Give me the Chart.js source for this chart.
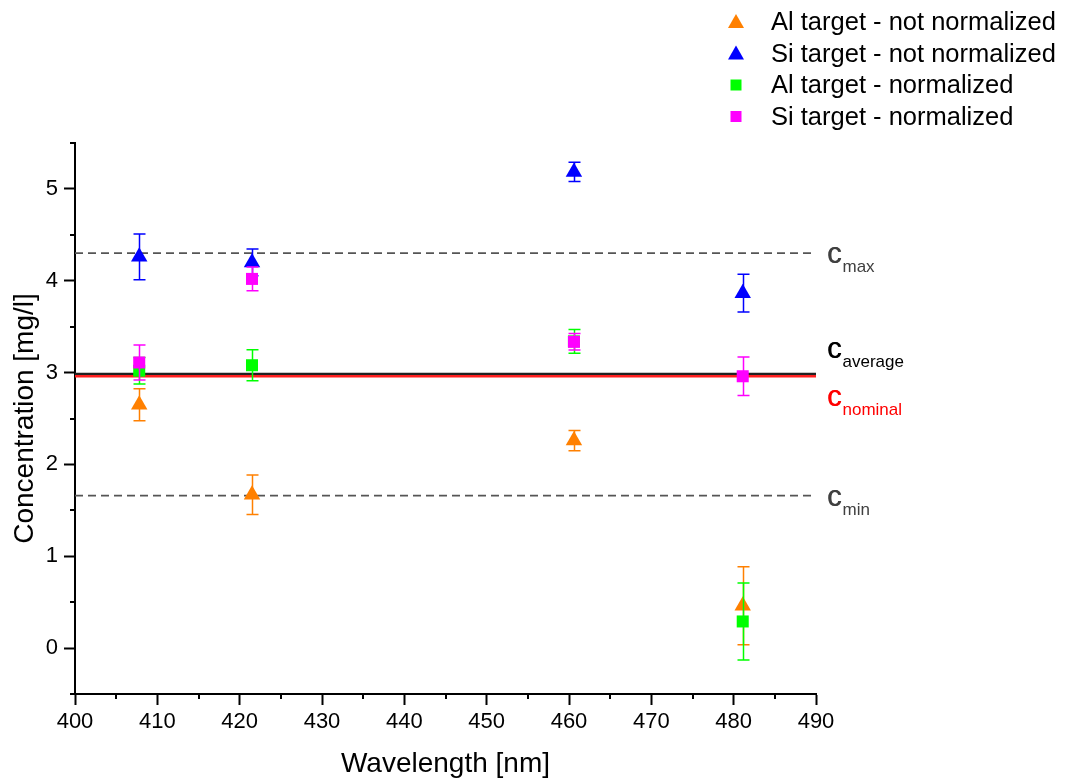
<!DOCTYPE html>
<html lang="en">
<head>
<meta charset="UTF-8">
<title>Concentration vs. wavelength</title>
<script src="https://cdn.jsdelivr.net/npm/chart.js"></script>
<style>
  html, body { margin: 0; padding: 0; background: #fff; }
  #wrap { width: 1065px; height: 783px; position: relative; }
</style>
</head>
<body>
<div id="wrap"><canvas id="concChart"></canvas></div>
<script>
  // Emission lines used for evaluation [nm]
  const wavelengths = [407.8, 421.5, 460.6, 481.1];

  // Concentrations [mg/l] and their standard deviations
  const alNotNorm    = [2.65, 1.67, 2.26, 0.46];
  const alNotNormErr = [0.175, 0.215, 0.11, 0.425];
  const siNotNorm    = [4.26, 4.20, 5.185, 3.865];
  const siNotNormErr = [0.25, 0.145, 0.105, 0.205];
  const alNorm       = [3.02, 3.08, 3.34, 0.29];
  const alNormErr    = [0.145, 0.17, 0.13, 0.42];
  const siNorm       = [3.11, 4.02, 3.335, 2.96];
  const siNormErr    = [0.19, 0.13, 0.09, 0.21];

  // Reference concentrations
  const cMax = 4.30;
  const cMin = 1.66;
  const cAverage = 2.985;
  const cNominal = 2.96;

  const seriesNames = [
    'Al target - not normalized',
    'Si target - not normalized',
    'Al target - normalized',
    'Si target - normalized'
  ];

  const FONT = "'Liberation Sans', Arial, sans-serif";

  const pts = (ys) => ys.map((y, i) => ({ x: wavelengths[i], y: y }));
  const hline = (v) => [{ x: 400, y: v }, { x: 490, y: v }];

  // error bars drawn under each series' markers
  const errorBars = {
    id: 'errorBars',
    beforeDatasetDraw(chart, args) {
      const ds = chart.data.datasets[args.index];
      if (!ds.errors) return;
      const { ctx, scales: { x, y } } = chart;
      ctx.save();
      ctx.strokeStyle = ds.backgroundColor;
      ctx.lineWidth = 1.5;
      ds.data.forEach((p, i) => {
        const px = Math.round(x.getPixelForValue(p.x)) + 0.5;
        const top = y.getPixelForValue(p.y + ds.errors[i]);
        const bot = y.getPixelForValue(p.y - ds.errors[i]);
        ctx.beginPath();
        ctx.moveTo(px, top); ctx.lineTo(px, bot);
        ctx.moveTo(px - 6, top); ctx.lineTo(px + 6, top);
        ctx.moveTo(px - 6, bot); ctx.lineTo(px + 6, bot);
        ctx.stroke();
      });
      ctx.restore();
    }
  };

  // short minor ticks between the labelled ones
  const minorTicks = {
    id: 'minorTicks',
    afterDraw(chart) {
      const { ctx, scales: { x, y } } = chart;
      ctx.save();
      ctx.strokeStyle = '#000';
      ctx.lineWidth = 2;
      ctx.beginPath();
      y.ticks.forEach(t => {
        if (Math.abs(t.value % 1) < 1e-6) return;
        const py = Math.round(y.getPixelForValue(t.value));
        ctx.moveTo(y.right - 5, py); ctx.lineTo(y.right, py);
      });
      x.ticks.forEach(t => {
        if (t.value % 10 === 0) return;
        const px = Math.round(x.getPixelForValue(t.value));
        ctx.moveTo(px, x.top); ctx.lineTo(px, x.top + 5);
      });
      ctx.stroke();
      ctx.restore();
    }
  };

  // c_max, c_average ... labels right of the plot
  const refLabels = {
    id: 'refLabels',
    afterDraw(chart) {
      const { ctx, scales: { y }, chartArea } = chart;
      const items = [
        { sub: 'max', v: cMax, color: '#404040', dy: 2 },
        { sub: 'average', v: cAverage, color: '#000', dy: -24 },
        { sub: 'nominal', v: cNominal, color: '#ff0000', dy: 22 },
        { sub: 'min', v: cMin, color: '#404040', dy: 2 }
      ];
      ctx.save();
      ctx.textBaseline = 'alphabetic';
      ctx.textAlign = 'left';
      items.forEach(it => {
        const cy = y.getPixelForValue(it.v) + it.dy;
        const x0 = chartArea.right + 11;
        ctx.fillStyle = it.color;
        ctx.font = '29px ' + FONT;
        ctx.fillText('c', x0, cy + 8);
        ctx.fillText('c', x0 + 0.6, cy + 8);
        const w = ctx.measureText('c').width;
        ctx.font = '17px ' + FONT;
        ctx.fillText(it.sub, x0 + w + 1, cy + 17);
      });
      ctx.restore();
    }
  };

  // legend in the upper right corner
  const cornerLegend = {
    id: 'cornerLegend',
    afterDraw(chart) {
      const { ctx } = chart;
      ctx.save();
      ctx.font = '25.5px ' + FONT;
      ctx.textBaseline = 'middle';
      ctx.textAlign = 'left';
      seriesNames.forEach((name, i) => {
        const ds = chart.data.datasets[i];
        const cy = 22 + i * 31.5;
        const cx = 736;
        ctx.fillStyle = ds.backgroundColor;
        ctx.beginPath();
        if (ds.pointStyle === 'triangle') {
          ctx.moveTo(cx, cy - 8);
          ctx.lineTo(cx + 8, cy + 6);
          ctx.lineTo(cx - 8, cy + 6);
          ctx.closePath();
        } else {
          ctx.rect(cx - 5.5, cy - 5.5, 11, 11);
        }
        ctx.fill();
        ctx.fillStyle = '#000';
        ctx.fillText(name, 771, cy + 1);
      });
      ctx.restore();
    }
  };

  const majorTick = (step) => (c) => (c.tick && Math.abs(c.tick.value % step) < 1e-6) ? '#000' : 'rgba(0,0,0,0)';

  const ctx = document.getElementById('concChart').getContext('2d');
  new Chart(ctx, {
    type: 'scatter',
    data: {
      datasets: [
        { label: seriesNames[0], data: pts(alNotNorm), errors: alNotNormErr,
          backgroundColor: '#ff8000', borderColor: '#ff8000',
          pointStyle: 'triangle', pointRadius: 9.5, pointBorderWidth: 0, order: 4 },
        { label: seriesNames[1], data: pts(siNotNorm), errors: siNotNormErr,
          backgroundColor: '#0000ff', borderColor: '#0000ff',
          pointStyle: 'triangle', pointRadius: 9.5, pointBorderWidth: 0, order: 3 },
        { label: seriesNames[2], data: pts(alNorm), errors: alNormErr,
          backgroundColor: '#00ff00', borderColor: '#00ff00',
          pointStyle: 'rect', pointRadius: 8.5, pointBorderWidth: 0, order: 2 },
        { label: seriesNames[3], data: pts(siNorm), errors: siNormErr,
          backgroundColor: '#ff00ff', borderColor: '#ff00ff',
          pointStyle: 'rect', pointRadius: 8.5, pointBorderWidth: 0, order: 1 },
        { type: 'line', label: 'c_max', data: hline(cMax), borderColor: '#555',
          borderWidth: 1.8, borderDash: [8, 5], pointRadius: 0, order: 10 },
        { type: 'line', label: 'c_min', data: hline(cMin), borderColor: '#555',
          borderWidth: 1.8, borderDash: [8, 5], pointRadius: 0, order: 10 },
        { type: 'line', label: 'c_average', data: hline(cAverage), borderColor: '#222',
          borderWidth: 2.2, pointRadius: 0, order: 11 },
        { type: 'line', label: 'c_nominal', data: hline(cNominal), borderColor: '#ff2020',
          borderWidth: 2.4, pointRadius: 0, order: 10 }
      ]
    },
    options: {
      responsive: true,
      maintainAspectRatio: false,
      animation: false,
      layout: { padding: { top: 143, right: 249, left: 0, bottom: 0 } },
      plugins: {
        legend: { display: false },
        tooltip: { enabled: false }
      },
      scales: {
        x: {
          type: 'linear',
          min: 400,
          max: 490,
          afterFit: (s) => { s.height = 89; },
          ticks: {
            stepSize: 5,
            autoSkip: false,
            maxRotation: 0,
            padding: 4,
            color: '#000',
            font: { family: FONT, size: 22 },
            callback: (v) => (v % 10 === 0 ? v : '')
          },
          grid: { drawOnChartArea: false, tickLength: 11, tickWidth: 2, tickColor: majorTick(10) },
          border: { color: '#000', width: 2 },
          title: {
            display: true,
            text: 'Wavelength [nm]',
            color: '#000',
            font: { family: FONT, size: 28 },
            padding: { top: 0, bottom: 2 }
          }
        },
        y: {
          min: -0.5,
          max: 5.5,
          afterFit: (s) => { s.width = 75; },
          ticks: {
            stepSize: 0.5,
            autoSkip: false,
            padding: 6,
            color: '#000',
            font: { family: FONT, size: 22 },
            callback: (v) => (Math.abs(v % 1) < 1e-6 ? v : '')
          },
          grid: { drawOnChartArea: false, tickLength: 11, tickWidth: 2, tickColor: majorTick(1) },
          border: { color: '#000', width: 2 },
          title: {
            display: true,
            text: 'Concentration [mg/l]',
            color: '#000',
            font: { family: FONT, size: 28 },
            padding: { top: 8, bottom: 0 }
          }
        }
      }
    },
    plugins: [errorBars, minorTicks, refLabels, cornerLegend]
  });
</script>
</body>
</html>
